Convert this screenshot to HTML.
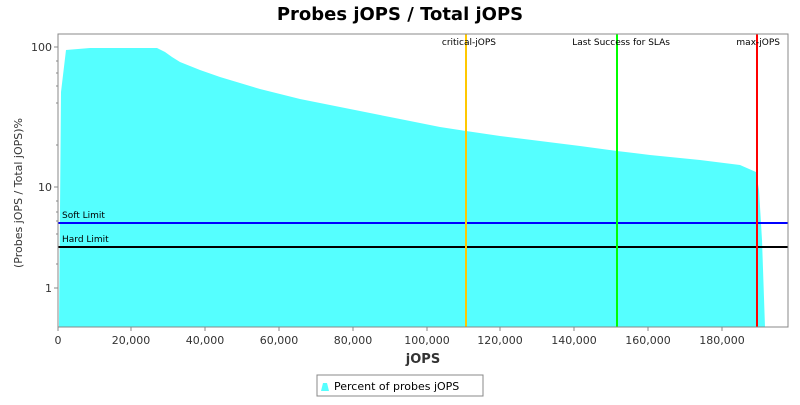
<!DOCTYPE html>
<html><head><style>
body{margin:0;background:#fff;font-family:"Liberation Sans","DejaVu Sans",sans-serif;}
</style></head><body>
<svg width="800" height="400" xmlns="http://www.w3.org/2000/svg" font-family="DejaVu Sans, Liberation Sans, sans-serif">
<rect width="800" height="400" fill="#fff"/>
<text x="400" y="20" text-anchor="middle" font-size="18" font-weight="bold" font-family="DejaVu Sans, sans-serif">Probes jOPS / Total jOPS</text>
<rect x="58" y="34" width="730" height="293" fill="#fff"/>
<polygon fill="#55ffff" points="59,327 61,92 66,50 90,48 157,48 165,52 172,57 180,62 200,70 220,77 240,83 260,89 280,94 300,99 320,103 340,107 360,111 380,115 400,119 420,123 440,127 466,131 500,136 540,141 580,146 617,151 650,155 700,160 740,165 756,172 759,190 762,240 765,327"/>
<line x1="58" y1="223" x2="788" y2="223" stroke="#0000ff" stroke-width="2"/>
<line x1="58" y1="247" x2="788" y2="247" stroke="#000" stroke-width="2"/>
<line x1="466" y1="34" x2="466" y2="327" stroke="#ffc800" stroke-width="2"/>
<line x1="617" y1="34" x2="617" y2="327" stroke="#00ff00" stroke-width="2"/>
<line x1="757" y1="34" x2="757" y2="327" stroke="#ff0000" stroke-width="2"/>
<g font-size="9" fill="#000">
<text x="62" y="218">Soft Limit</text>
<text x="62" y="242">Hard Limit</text>
<text x="496" y="45" text-anchor="end">critical-jOPS</text>
<text x="670" y="45" text-anchor="end">Last Success for SLAs</text>
<text x="780" y="45" text-anchor="end">max-jOPS</text>
</g>
<rect x="58" y="34" width="730" height="293" fill="none" stroke="#888"/>
<g stroke="#888">
<line x1="54" y1="47" x2="58" y2="47"/><line x1="54" y1="187" x2="58" y2="187"/><line x1="54" y1="288" x2="58" y2="288"/>
<g stroke-width="1">
<line x1="56" y1="61" x2="58" y2="61"/><line x1="56" y1="73" x2="58" y2="73"/><line x1="56" y1="86" x2="58" y2="86"/><line x1="56" y1="103" x2="58" y2="103"/><line x1="56" y1="145" x2="58" y2="145"/>
<line x1="56" y1="201" x2="58" y2="201"/><line x1="56" y1="212" x2="58" y2="212"/><line x1="56" y1="221" x2="58" y2="221"/><line x1="56" y1="234" x2="58" y2="234"/><line x1="56" y1="264" x2="58" y2="264"/>
</g>
<line x1="58" y1="327" x2="58" y2="331"/><line x1="131" y1="327" x2="131" y2="331"/><line x1="205" y1="327" x2="205" y2="331"/><line x1="279" y1="327" x2="279" y2="331"/><line x1="353" y1="327" x2="353" y2="331"/><line x1="427" y1="327" x2="427" y2="331"/><line x1="500" y1="327" x2="500" y2="331"/><line x1="574" y1="327" x2="574" y2="331"/><line x1="648" y1="327" x2="648" y2="331"/><line x1="722" y1="327" x2="722" y2="331"/>
</g>
<g font-size="11" fill="#333" text-anchor="end">
<text x="52" y="51">100</text><text x="52" y="191">10</text><text x="52" y="292">1</text>
</g>
<g font-size="11" fill="#333" text-anchor="middle">
<text x="58" y="344">0</text><text x="131" y="344">20,000</text><text x="205" y="344">40,000</text><text x="279" y="344">60,000</text><text x="353" y="344">80,000</text><text x="427" y="344">100,000</text><text x="500" y="344">120,000</text><text x="574" y="344">140,000</text><text x="648" y="344">160,000</text><text x="722" y="344">180,000</text>
</g>
<text x="423" y="363" text-anchor="middle" font-size="13" font-weight="bold" fill="#333">jOPS</text>
<text transform="translate(22,193) rotate(-90)" text-anchor="middle" font-size="11" fill="#333">(Probes jOPS / Total jOPS)%</text>
<rect x="317" y="375" width="166" height="21" fill="#fff" stroke="#888"/>
<polygon points="321,391 323,383 327,383 329,391" fill="#55ffff"/>
<text x="334" y="390" font-size="11" fill="#000">Percent of probes jOPS</text>
</svg>
</body></html>
